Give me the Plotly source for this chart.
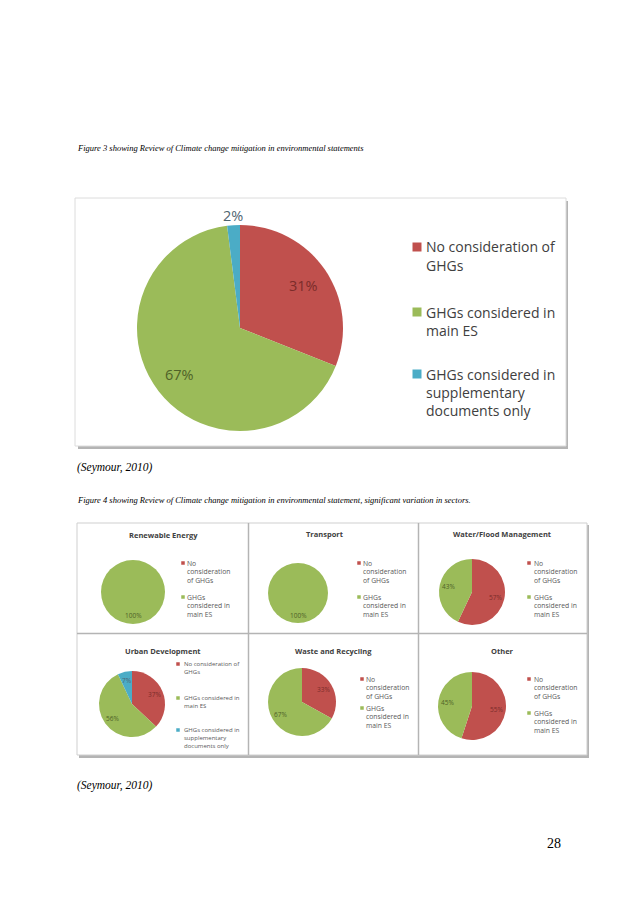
import math
import plotly.graph_objects as go

W, H = 638, 903

# ---------------- data ----------------
categories = ["No consideration of GHGs",
              "GHGs considered in main ES",
              "GHGs considered in supplementary documents only"]

# Figure 3: overall review
fig3_values = [31, 67, 2]

# Figure 4: by sector
sector_names = ["Renewable Energy", "Transport", "Water/Flood Management",
                "Urban Development", "Waste and Recycling", "Other"]
no_consideration = [0, 0, 57, 37, 33, 55]
main_es = [100, 100, 43, 56, 67, 45]
supplementary = [0, 0, 0, 7, 0, 0]

# legend wording as printed (line breaks)
legend_wide = ["No consideration of<br>GHGs", "GHGs considered in<br>main ES",
               "GHGs considered in<br>supplementary<br>documents only"]
legend_narrow = ["No<br>consideration<br>of GHGs", "GHGs<br>considered in<br>main ES"]

caption3 = "Figure 3 showing Review of Climate change mitigation in environmental statements"
caption4 = ("Figure 4 showing Review of Climate change mitigation in environmental statement, "
            "significant variation in sectors.")
source = "(Seymour, 2010)"
page_no = "28"

# ---------------- styling ----------------
slice_colors = ["#C0504D", "#9BBB59", "#4BACC6"]
label_colors = ["#7b2c2a", "#4f6228", "#4f6570"]
SANS = "Open Sans"
SERIF = "Liberation Serif"

fig = go.Figure()
shapes = []
annotations = []


def X(px):
    return px / W


def Y(py):
    return 1 - py / H


def text(t, px, py, size, color="#000000", family=SANS, xanchor="left"):
    annotations.append(dict(text=t, x=X(px), y=Y(py), xref="paper", yref="paper",
                            xanchor=xanchor, yanchor="middle", showarrow=False,
                            font=dict(size=size, color=color, family=family),
                            borderpad=0))


def rect(x0, y0, x1, y1, fill, line_color=None, lw=0):
    shapes.append(dict(type="rect", xref="paper", yref="paper",
                       x0=X(x0), x1=X(x1), y0=Y(y1), y1=Y(y0),
                       fillcolor=fill, layer="below",
                       line=dict(color=line_color or fill, width=lw)))


def hline(x0, x1, y, color, lw):
    shapes.append(dict(type="line", xref="paper", yref="paper",
                       x0=X(x0), x1=X(x1), y0=Y(y), y1=Y(y),
                       line=dict(color=color, width=lw), layer="below"))


def vline(x, y0, y1, color, lw):
    shapes.append(dict(type="line", xref="paper", yref="paper",
                       x0=X(x), x1=X(x), y0=Y(y0), y1=Y(y1),
                       line=dict(color=color, width=lw), layer="below"))


def pie(values, cx, cy, r, size, name, bold=False):
    n = len(values)
    fig.add_trace(go.Pie(
        values=values, labels=categories[:n], name=name,
        marker=dict(colors=slice_colors[:n], line=dict(width=0)),
        sort=False, direction="clockwise", rotation=0,
        textinfo="none", hoverinfo="label+percent", showlegend=False,
        domain=dict(x=[X(cx - r), X(cx + r)], y=[Y(cy + r), Y(cy - r)])))
    total = float(sum(values))
    cum = 0.0
    for i, v in enumerate(values):
        if v <= 0:
            continue
        frac = v / total
        mid = math.radians((cum + v / 2.0) / total * 360.0)
        cum += v
        f = 0.74 if frac >= 0.05 else 1.09
        lx = cx + f * r * math.sin(mid)
        ly = cy - f * r * math.cos(mid)
        t = "%d%%" % round(frac * 100)
        if bold:
            t = "<b>%s</b>" % t
        text(t, lx, ly, size, label_colors[i], xanchor="center")


def legend(items, mx, text_left, first_lines, spacing, size, sq, color):
    for i, (t, y0) in enumerate(zip(items, first_lines)):
        rect(mx - sq / 2, y0 - sq / 2, mx + sq / 2, y0 + sq / 2, slice_colors[i])
        for k, line in enumerate(t.split("<br>")):
            text(line, text_left, y0 + k * spacing, size, color)


# ---------------- page text ----------------
text("<i>%s</i>" % caption3, 76, 148, 8.5, "#000000", SERIF)
text("<i>%s</i>" % source, 76, 468, 11.5, "#000000", SERIF)
text("<i>%s</i>" % caption4, 76, 500, 8.5, "#000000", SERIF)
text("<i>%s</i>" % source, 76, 785, 11.5, "#000000", SERIF)
text(page_no, 554, 843, 14, "#000000", SERIF, xanchor="center")

# ---------------- Figure 3 ----------------
rect(78, 201, 568, 449, "#b4b4b4")
rect(75, 198, 566, 446, "#ffffff", "#dcdcdc", 1)
pie(fig3_values, 240, 328, 103, 14.5, "Overall")
legend(legend_wide, 417, 425, [247, 312, 374], 18.3, 14, 9, "#404040")

# ---------------- Figure 4 ----------------
rect(79, 525, 589, 758, "#b4b4b4")
rect(77, 523, 587, 755, "#ffffff", "#cfcfcf", 1)
vline(248.5, 523, 755, "#b4b4b4", 1.5)
vline(418.5, 523, 755, "#b4b4b4", 1.5)
hline(77, 587, 633.5, "#b4b4b4", 1.5)

panels = [
    # title pos, pie centre, radius, legend marker x, text x, first-line ys, font
    dict(title=(163, 535), c=(133, 592), r=32, mx=183, tx=186, ys=[563, 597], fs=6.8, wide=False),
    dict(title=(325, 534), c=(298, 593), r=30, mx=359, tx=362, ys=[563, 597], fs=6.8, wide=False),
    dict(title=(502, 534), c=(472, 592), r=33, mx=529, tx=532.5, ys=[563, 597], fs=6.8, wide=False),
    dict(title=(163, 651), c=(132, 704), r=33, mx=178, tx=182.5, ys=[664, 698, 730], fs=6, wide=True),
    dict(title=(333, 651), c=(302, 702), r=34, mx=362, tx=365, ys=[679, 708], fs=6.8, wide=False),
    dict(title=(502, 651), c=(472, 706), r=34, mx=529, tx=532.5, ys=[679, 713], fs=6.8, wide=False),
]

for i, p in enumerate(panels):
    vals = [no_consideration[i], main_es[i]]
    if p["wide"]:
        vals.append(supplementary[i])
    text("<b>%s</b>" % sector_names[i], p["title"][0], p["title"][1], 7.5, "#404040",
         xanchor="center")
    pie(vals, p["c"][0], p["c"][1], p["r"], 6.5, sector_names[i])
    items = legend_wide if p["wide"] else legend_narrow
    legend(items, p["mx"], p["tx"], p["ys"], 8.5 if not p["wide"] else 8.2,
           p["fs"], 3.5, "#595959")

fig.update_layout(
    width=W, height=H,
    margin=dict(l=0, r=0, t=0, b=0),
    paper_bgcolor="#ffffff", plot_bgcolor="#ffffff",
    shapes=shapes, annotations=annotations,
    showlegend=False,
)

fig.write_html("out.html", config={"displayModeBar": False},
               post_script="document.body.style.margin='0px';")
